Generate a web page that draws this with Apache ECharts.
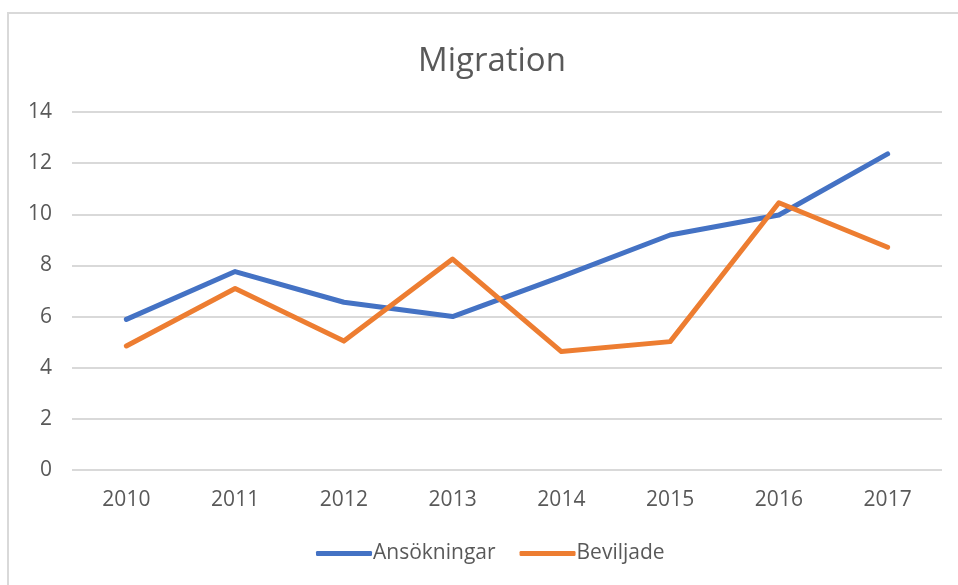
<!DOCTYPE html>
<html>
<head>
<meta charset="utf-8">
<script src="https://cdn.jsdelivr.net/npm/echarts@6/dist/echarts.min.js"></script>
<style>
  html, body { margin: 0; padding: 0; background: #fff; }
  #chart { width: 958px; height: 585px; }
</style>
</head>
<body>
<div id="chart"></div>
<script>
var years = ['2010', '2011', '2012', '2013', '2014', '2015', '2016', '2017'];
var ansokningar = [5.89, 7.76, 6.56, 6.0, 7.56, 9.19, 9.97, 12.36];
var beviljade = [4.85, 7.1, 5.04, 8.25, 4.63, 5.02, 10.45, 8.71];

var textColor = '#595959';
var font = 'Open Sans';

var myChart = echarts.init(document.getElementById('chart'));
var option = {
  animation: false,
  graphic: [{
    type: 'rect',
    shape: { x: 8, y: 13, width: 960, height: 580 },
    style: { fill: 'none', stroke: '#d9d9d9', lineWidth: 2 }
  }],
  title: {
    text: 'Migration',
    left: 413,
    top: 40,
    textStyle: { color: textColor, fontFamily: font, fontWeight: 'normal', fontSize: 33 }
  },
  legend: {
    top: 538,
    left: 311,
    itemGap: 24,
    itemWidth: 56,
    itemHeight: 5,
    icon: 'roundRect',
    textStyle: { color: textColor, fontFamily: font, fontSize: 21, padding: [0, 0, 0, -4] }
  },
  grid: { left: 72, right: 16, top: 112, bottom: 115 },
  xAxis: {
    type: 'category',
    data: years,
    boundaryGap: true,
    axisLine: { show: false },
    axisTick: { show: false },
    axisLabel: { color: textColor, fontFamily: font, fontSize: 21, margin: 20 }
  },
  yAxis: {
    type: 'value',
    min: 0,
    max: 14,
    interval: 2,
    axisLine: { show: false },
    axisTick: { show: false },
    axisLabel: { color: textColor, fontFamily: font, fontSize: 21, margin: 20 },
    splitLine: { lineStyle: { color: '#d9d9d9', width: 2 } }
  },
  series: [
    {
      name: 'Ansökningar',
      type: 'line',
      data: ansokningar,
      showSymbol: false,
      itemStyle: { color: '#4472c4' },
      lineStyle: { color: '#4472c4', width: 5, cap: 'round', join: 'round' }
    },
    {
      name: 'Beviljade',
      type: 'line',
      data: beviljade,
      showSymbol: false,
      itemStyle: { color: '#ed7d31' },
      lineStyle: { color: '#ed7d31', width: 5, cap: 'round', join: 'round' }
    }
  ]
};
myChart.setOption(option);
</script>
</body>
</html>
